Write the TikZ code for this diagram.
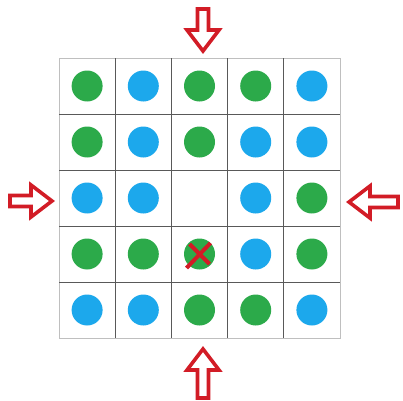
\documentclass[tikz,border=0pt]{standalone}
\definecolor{dotgreen}{RGB}{44,170,74}
\definecolor{dotblue}{RGB}{28,168,236}
\definecolor{arrowred}{RGB}{210,28,38}
\tikzset{
  dotbase/.style={circle, minimum size=31pt, inner sep=0pt},
  greendot/.style={dotbase, fill=dotgreen},
  bluedot/.style={dotbase, fill=dotblue},
  gridline/.style={draw=black!65, line width=0.9pt},
  outerline/.style={draw=black!25, line width=0.8pt},
  blockarrow/.style={draw=arrowred, fill=white, line width=3.6pt, line join=miter},
  redx/.style={draw=arrowred, line width=4pt},
  pics/blockarr/.style={code={
    \draw[blockarrow] (-1,0) -- (-22,-16) -- (-22,-5.5) -- (-#1,-5.5) -- (-#1,5.5) -- (-22,5.5) -- (-22,16) -- cycle;
  }}
}
\begin{document}
\begin{tikzpicture}[x=1pt,y=-1pt]
\useasboundingbox (0,0) rectangle (403,400);
\fill[white] (0,0) rectangle (403,400);
% grid
\draw[outerline] (59,58) rectangle (340,338);
\foreach \i in {1,...,4} {
  \draw[gridline] ({59+\i*56.2},58) -- ({59+\i*56.2},338);
  \draw[gridline] (59,{58+\i*56}) -- (340,{58+\i*56});
}
% dots
\foreach \r/\c/\s in {
  1/1/greendot, 1/2/bluedot, 1/3/greendot, 1/4/greendot, 1/5/bluedot,
  2/1/greendot, 2/2/bluedot, 2/3/greendot, 2/4/bluedot, 2/5/bluedot,
  3/1/bluedot, 3/2/bluedot, 3/4/bluedot, 3/5/greendot,
  4/1/greendot, 4/2/greendot, 4/3/greendot, 4/4/bluedot, 4/5/greendot,
  5/1/bluedot, 5/2/bluedot, 5/3/greendot, 5/4/greendot, 5/5/bluedot} {
  \node[\s] (c\r\c) at ({59+(\c-0.5)*56.2},{58+(\r-0.5)*56}) {};
}
% red cross
\draw[redx] ([shift={(-13,14)}]c43.center) -- ([shift={(11,-11)}]c43.center);
\draw[redx] ([shift={(-10,-10)}]c43.center) -- ([shift={(10,10)}]c43.center);
% arrows
\pic[rotate=-90] at (203,52) {blockarr=43};
\pic[rotate=0] at (53,201) {blockarr=43};
\pic[rotate=180] at (348,202) {blockarr=50};
\pic[rotate=90] at (203,348) {blockarr=50};
\end{tikzpicture}
\end{document}
